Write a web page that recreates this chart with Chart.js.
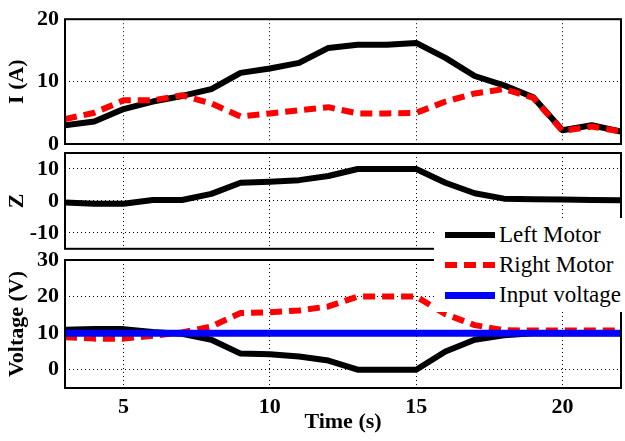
<!DOCTYPE html>
<html>
<head>
<meta charset="utf-8">
<script src="https://cdn.jsdelivr.net/npm/chart.js@4"></script>
<style>
  body { margin: 0; background: #fff; }
  #wrap { position: relative; width: 625px; height: 441px; overflow: hidden; }
  #wrap canvas { position: absolute; left: 0; }
  #legend { position: absolute; left: 434px; top: 218px; width: 191px; height: 94px; background: #fff; z-index: 5;
            font-family: "Liberation Serif", "Times New Roman", Times, "DejaVu Serif", serif; font-size: 23px; color: #000; }
  .row { position: absolute; left: 0; height: 30px; line-height: 30px; width: 191px; }
  .swatch { position: absolute; left: 11px; top: 12px; width: 50px; height: 6px; }
  .row span { position: absolute; left: 65px; white-space: nowrap; }
</style>
</head>
<body>
<div id="wrap">
  <canvas id="current" width="625" height="170" style="top:0px"></canvas>
  <canvas id="zplot" width="625" height="140" style="top:128px"></canvas>
  <canvas id="voltage" width="625" height="205" style="top:236px"></canvas>
  <div id="legend">
    <div class="row" style="top:2px"><div class="swatch" style="background:#000"></div><span>Left Motor</span></div>
    <div class="row" style="top:32px"><div class="swatch" style="background:repeating-linear-gradient(to right,#f00 0 12px,transparent 12px 19px)"></div><span>Right Motor</span></div>
    <div class="row" style="top:62px"><div class="swatch" style="background:#00f;height:7px"></div><span>Input voltage</span></div>
  </div>
</div>
<script>
const time = [3, 4, 5, 6, 7, 8, 9, 10, 11, 12, 13, 14, 15, 16, 17, 18, 19, 20, 21, 22];
const leftCurrent = [3.0, 3.6, 5.6, 6.8, 7.7, 8.8, 11.4, 12.1, 13.0, 15.4, 15.9, 15.9, 16.2, 13.8, 10.9, 9.4, 7.5, 2.2, 3.0, 2.0];
const rightCurrent = [4.0, 5.0, 7.0, 7.0, 7.8, 6.5, 4.4, 4.9, 5.4, 5.9, 4.9, 4.9, 5.0, 6.8, 8.1, 8.8, 7.4, 2.1, 2.8, 2.0];
const zValues = [-0.5, -0.9, -0.9, 0.3, 0.3, 2.2, 5.7, 6.0, 6.5, 7.8, 10, 10, 10, 5.7, 2.4, 0.7, 0.5, 0.4, 0.3, 0.2];
const leftVoltage = [10.9, 11.1, 11.1, 10.3, 9.8, 8.2, 4.4, 4.2, 3.6, 2.5, 0, 0, 0, 5.0, 8.2, 9.4, 10, 10, 10, 10];
const rightVoltage = [8.9, 8.5, 8.5, 9.3, 10.2, 11.8, 15.5, 15.7, 16.2, 17.3, 20, 20, 20, 15.2, 12.2, 10.8, 10.7, 10.7, 10.7, 10.7];
const inputVoltage = [10, 10, 10, 10, 10, 10, 10, 10, 10, 10, 10, 10, 10, 10, 10, 10, 10, 10, 10, 10];

const xTicks = [5, 10, 15, 20];
const currentTicks = [0, 10, 20];
const zTicks = [-10, 0, 10];
const voltageTicks = [0, 10, 20, 30];

const serif = '"Liberation Serif", "Times New Roman", Times, "DejaVu Serif", serif';

function pts(values) {
    return time.map((t, i) => ({ x: t, y: values[i] }));
}

function line(label, values, color, dashed, order) {
    return {
        label: label,
        data: pts(values),
        borderColor: color,
        borderWidth: color === '#0000ff' ? 7 : 6,
        borderDash: dashed ? [12, 7] : [],
        borderJoinStyle: 'round',
        pointRadius: 0,
        tension: 0,
        order: order
    };
}

// box round every plot like the original
const frame = {
    id: 'frame',
    afterDraw(chart) {
        const a = chart.chartArea;
        const ctx = chart.ctx;
        ctx.save();
        ctx.strokeStyle = '#000';
        ctx.lineWidth = 2;
        ctx.strokeRect(a.left, a.top, a.right - a.left, a.bottom - a.top);
        ctx.restore();
    }
};

function options(yMin, yMax, yTicks, yTitle, bottom, padding) {
    return {
        responsive: false,
        animation: false,
        layout: { padding: padding },
        plugins: { legend: { display: false }, tooltip: { enabled: false } },
        scales: {
            x: {
                type: 'linear',
                min: 3,
                max: 22,
                afterBuildTicks: s => { s.ticks = xTicks.map(v => ({ value: v })); },
                afterFit: s => { s.height = bottom ? 53 : 0; },
                grid: { color: '#000', lineWidth: 1, drawTicks: false },
                border: { display: false, dash: [1, 3] },
                ticks: { display: bottom, color: '#000', padding: 6, maxRotation: 0,
                         font: { family: serif, size: 22, weight: 'bold' } },
                title: { display: bottom, text: 'Time (s)', color: '#000', padding: { top: 0, bottom: 5 },
                         font: { family: serif, size: 22, weight: 'bold' } }
            },
            y: {
                min: yMin,
                max: yMax,
                afterBuildTicks: s => { s.ticks = yTicks.map(v => ({ value: v })); },
                afterFit: s => { s.width = 65; },
                grid: { color: '#000', lineWidth: 1, drawTicks: false },
                border: { display: false, dash: [1, 3] },
                ticks: { color: '#000', padding: 6, font: { family: serif, size: 22, weight: 'bold' } },
                title: { display: true, text: yTitle, color: '#000',
                         font: { family: serif, size: 22, weight: 'bold' } }
            }
        }
    };
}

new Chart(document.getElementById('current'), {
    type: 'line',
    data: {
        datasets: [
            line('Right Motor', rightCurrent, '#ff0000', true, 0),
            line('Left Motor', leftCurrent, '#000000', false, 1)
        ]
    },
    options: options(0, 20, currentTicks, 'I (A)', false, { top: 16, right: 4, bottom: 26, left: 0 }),
    plugins: [frame]
});

new Chart(document.getElementById('zplot'), {
    type: 'line',
    data: {
        datasets: [
            line('Left Motor', zValues, '#000000', false, 0)
        ]
    },
    options: options(-15, 15, zTicks, 'Z', false, { top: 25, right: 4, bottom: 18, left: 0 }),
    plugins: [frame]
});

new Chart(document.getElementById('voltage'), {
    type: 'line',
    data: {
        datasets: [
            line('Input voltage', inputVoltage, '#0000ff', false, 0),
            line('Right Motor', rightVoltage, '#ff0000', true, 1),
            line('Left Motor', leftVoltage, '#000000', false, 2)
        ]
    },
    options: options(-5, 30, voltageTicks, 'Voltage (V)', true, { top: 24, right: 4, bottom: 0, left: 0 }),
    plugins: [frame]
});
</script>
</body>
</html>
